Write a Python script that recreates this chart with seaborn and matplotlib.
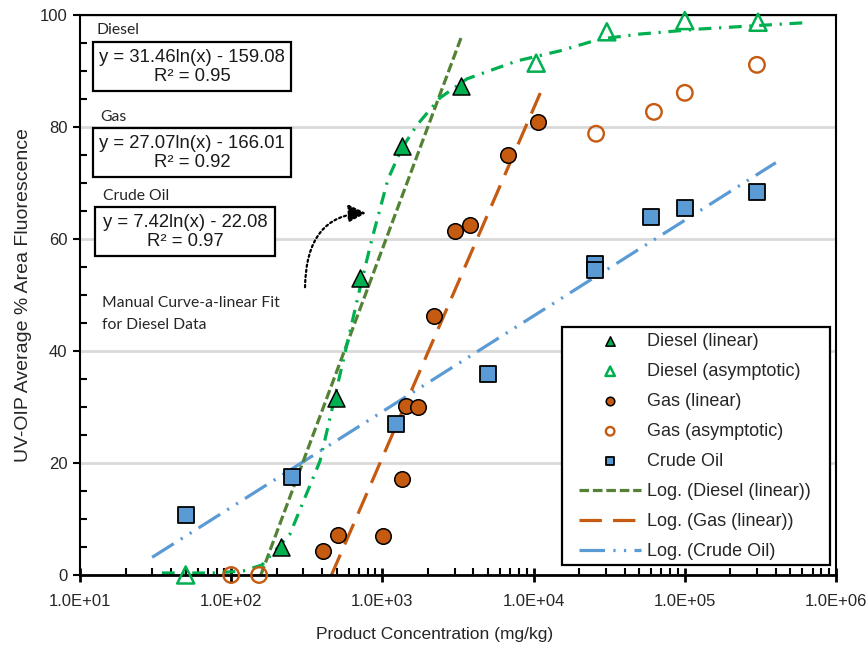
import numpy as np
import matplotlib
matplotlib.use("Agg")
import matplotlib.pyplot as plt
from matplotlib.patches import Rectangle, FancyArrowPatch
from matplotlib.ticker import FixedLocator, LogLocator, NullFormatter, FuncFormatter
import seaborn as sns

# ---------------- data ----------------
# Diesel, linear response range
diesel_lin_x = [213, 493, 711, 1349, 3313]
diesel_lin_y = [5.0, 31.6, 53.0, 76.6, 87.3]
# Diesel, asymptotic range
diesel_asym_x = [50, 10400, 30500, 100000, 305000]
diesel_asym_y = [0.0, 91.4, 97.0, 99.0, 98.7]
# Gas, linear response range
gas_lin_x = [405, 508, 1009, 1349, 1432, 1718, 2191, 3020, 3795, 6775, 10690]
gas_lin_y = [4.3, 7.1, 7.0, 17.1, 30.2, 30.0, 46.3, 61.4, 62.5, 75.0, 80.9]
# Gas, asymptotic range
gas_asym_x = [100, 153, 25900, 62500, 100000, 300000]
gas_asym_y = [0.0, 0.0, 78.8, 82.7, 86.1, 91.1]
# Crude oil
crude_x = [50, 252, 1230, 4990, 25500, 25500, 59700, 100000, 300000]
crude_y = [10.7, 17.5, 27.0, 35.9, 55.5, 54.5, 64.0, 65.5, 68.4]

# Logarithmic trendlines: slope, intercept, R^2, x-extent
diesel_fit = (31.46, -159.08, 0.95)
gas_fit = (27.07, -166.01, 0.92)
crude_fit = (7.42, -22.08, 0.97)
diesel_fit_span = (157, 3313)
gas_fit_span = (460, 11500)
crude_fit_span = (30, 400000)

# Hand-drawn curvilinear fit through the diesel data
manual_x = [34.8, 75.8, 119.7, 159.8, 244.8, 386.7, 711, 853, 1089, 1348,
            1694, 2404, 3627, 7767, 14950, 27490, 50540, 126000, 605000]
manual_y = [0.36, 0.36, 0.71, 1.79, 7.32, 20.36, 51.25, 60.0, 70.7, 76.25,
            80.36, 85.2, 88.6, 91.8, 93.6, 95.7, 96.6, 97.5, 98.6]

x_ticks = [1e1, 1e2, 1e3, 1e4, 1e5, 1e6]
y_ticks = [0, 20, 40, 60, 80, 100]

GREEN = "#00b050"
OLIVE = "#548235"
ORANGE = "#c55a11"
BLUE = "#5b9bd5"
TXT = "#262626"

# ---------------- figure ----------------
sns.set_style("white")
plt.rcParams["font.family"] = ["Liberation Sans", "DejaVu Sans"]

W, H = 868, 648
fig = plt.figure(figsize=(W / 100, H / 100), dpi=100)


def fx(px):
    return px / W


def fy(py):
    return 1 - py / H


ax = fig.add_axes([fx(80), fy(575), (836 - 80) / W, (575 - 15) / H])
ax.set_xscale("log")
ax.set_xlim(1e1, 1e6)
ax.set_ylim(0, 100)

# gridlines
ax.yaxis.grid(True, color="#d9d9d9", lw=2, zorder=0)
ax.set_axisbelow(True)


def fit_curve(fit, span):
    xs = np.geomspace(span[0], span[1], 300)
    return xs, fit[0] * np.log(xs) + fit[1]


line_kw = dict(ax=ax, legend=False, sort=False, estimator=None, lw=2.3, zorder=2)

xs, ys = fit_curve(crude_fit, crude_fit_span)
sns.lineplot(x=xs, y=ys, color=BLUE, linestyle=(0, (8, 2.6, 0.7, 2.6, 0.7, 2.6)),
             label="Log. (Crude Oil)", **line_kw)
xs, ys = fit_curve(gas_fit, gas_fit_span)
sns.lineplot(x=xs, y=ys, color=ORANGE, linestyle=(0, (7, 3.5)),
             label="Log. (Gas (linear))", **line_kw)
xs, ys = fit_curve(diesel_fit, diesel_fit_span)
sns.lineplot(x=xs, y=ys, color=OLIVE, linestyle=(0, (3, 1.2)),
             label="Log. (Diesel (linear))", **line_kw)
sns.lineplot(x=manual_x, y=manual_y, color=GREEN, linestyle=(0, (4, 2.4, 0.7, 2.4)),
             label="_manual", **line_kw)

pt_kw = dict(ax=ax, legend=False, clip_on=False, zorder=3)
sns.scatterplot(x=crude_x, y=crude_y, marker="s", s=120, color=BLUE,
                edgecolor="black", linewidth=1.3, label="Crude Oil", **pt_kw)
sns.scatterplot(x=gas_asym_x, y=gas_asym_y, marker="o", s=125, facecolor="none",
                edgecolor=ORANGE, linewidth=1.7, label="Gas (asymptotic)", **pt_kw)
sns.scatterplot(x=gas_lin_x, y=gas_lin_y, marker="o", s=125, color=ORANGE,
                edgecolor="black", linewidth=1.1, label="Gas (linear)", **pt_kw)
sns.scatterplot(x=diesel_asym_x, y=diesel_asym_y, marker="^", s=150, facecolor="none",
                edgecolor=GREEN, linewidth=1.8, label="Diesel (asymptotic)", **pt_kw)
sns.scatterplot(x=diesel_lin_x, y=diesel_lin_y, marker="^", s=150, color=GREEN,
                edgecolor="black", linewidth=1.1, label="Diesel (linear)", **pt_kw)

# ---------------- axes styling ----------------
for side in ["left", "right", "top", "bottom"]:
    ax.spines[side].set_color("black")
    ax.spines[side].set_linewidth(1.5)
    ax.spines[side].set_visible(True)
ax.spines["bottom"].set_linewidth(2.0)

ax.xaxis.set_major_locator(FixedLocator(x_ticks))
ax.xaxis.set_minor_locator(LogLocator(base=10, subs=np.arange(2, 10)))
ax.xaxis.set_minor_formatter(NullFormatter())
ax.xaxis.set_major_formatter(FuncFormatter(lambda v, p: f"{v:.1E}"))
ax.yaxis.set_major_locator(FixedLocator(y_ticks))
ax.yaxis.set_minor_locator(FixedLocator(np.arange(5, 100, 5)))

ax.tick_params(axis="x", which="major", direction="inout", length=10, width=2,
               color="black", labelsize=12, labelcolor=TXT, pad=9, bottom=True)
ax.tick_params(axis="x", which="minor", direction="in", length=5, width=1.5,
               color="black", bottom=True)
ax.tick_params(axis="y", which="major", direction="out", length=5, width=1.5,
               color="black", labelsize=12, labelcolor=TXT, pad=4, left=True)
ax.tick_params(axis="y", which="minor", direction="in", length=5, width=1.5,
               color="black", left=True)

ax.set_xlabel("Product Concentration (mg/kg)", fontsize=12.5, color=TXT)
ax.xaxis.set_label_coords((435 - 80) / 756, -(627 - 575) / 560)
ax.set_ylabel("UV-OIP Average % Area Fluorescence", fontsize=14, color=TXT)
ax.yaxis.set_label_coords(-(80 - 32) / 756, 0.5)

# ---------------- equation boxes ----------------
boxes = [
    ("Diesel", 97, 30, diesel_fit, (93, 42, 291, 91)),
    ("Gas", 100, 117, gas_fit, (93, 128, 291, 177)),
    ("Crude Oil", 103, 196, crude_fit, (95, 207, 275, 256)),
]
for name, tx, ty, fit, (x0, y0, x1, y1) in boxes:
    fig.text(fx(tx), fy(ty), name, family=["Lato", "DejaVu Sans"], fontsize=11.3,
             color=TXT, ha="left", va="center")
    fig.add_artist(Rectangle((fx(x0), fy(y1)), (x1 - x0) / W, (y1 - y0) / H,
                             transform=fig.transFigure, facecolor="white",
                             edgecolor="black", lw=1.6, zorder=2))
    sign = "-" if fit[1] < 0 else "+"
    eq = f"y = {fit[0]:.2f}ln(x) {sign} {abs(fit[1]):.2f}\nR² = {fit[2]:.2f}"
    fig.text(fx((x0 + x1) / 2), fy((y0 + y1) / 2 + 0.5), eq, fontsize=13.3,
             color="#1a1a1a", ha="center", va="center", multialignment="center",
             linespacing=1.08, zorder=3)

fig.text(fx(102), fy(303), "Manual Curve-a-linear Fit", family=["Lato", "DejaVu Sans"],
         fontsize=11.3, color=TXT, ha="left", va="center")
fig.text(fx(102), fy(325), "for Diesel Data", family=["Lato", "DejaVu Sans"],
         fontsize=11.3, color=TXT, ha="left", va="center")

arrow = FancyArrowPatch((fx(305), fy(290)), (fx(369), fy(213)),
                        transform=fig.transFigure,
                        connectionstyle="angle3,angleA=90,angleB=0",
                        arrowstyle="-|>,head_length=0.9,head_width=0.45",
                        mutation_scale=12, lw=1.6, linestyle=(0, (1, 1.3)),
                        color="black", zorder=3)
fig.add_artist(arrow)

# ---------------- legend ----------------
handles, labels = ax.get_legend_handles_labels()
lookup = dict(zip(labels, handles))
order = ["Diesel (linear)", "Diesel (asymptotic)", "Gas (linear)", "Gas (asymptotic)",
         "Crude Oil", "Log. (Diesel (linear))", "Log. (Gas (linear))", "Log. (Crude Oil)"]
fig.add_artist(Rectangle((fx(562), fy(565)), (830 - 562) / W, (565 - 327) / H,
                         transform=fig.transFigure, facecolor="white",
                         edgecolor="black", lw=1.6, zorder=2))
fig.legend([lookup[k] for k in order], order, loc="upper left",
           bbox_to_anchor=(fx(579), fy(333)), bbox_transform=fig.transFigure,
           frameon=False, borderpad=0, borderaxespad=0, fontsize=13,
           handlelength=3.45, handletextpad=0.33, labelspacing=0.72,
           markerscale=0.55, labelcolor=TXT)

fig.savefig("out.png", dpi=100)
